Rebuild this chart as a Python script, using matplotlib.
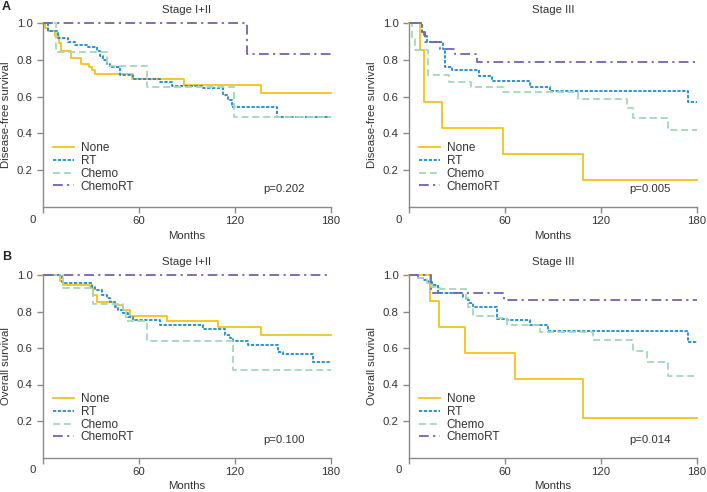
import matplotlib
matplotlib.use("Agg")
import matplotlib.pyplot as plt

plt.rcParams['font.family'] = ['Liberation Sans', 'DejaVu Sans']

groups = ["None", "RT", "Chemo", "ChemoRT"]
xticks = [0, 60, 120, 180]
xticklabels = ["", "60", "120", "180"]
yticks = [0.2, 0.4, 0.6, 0.8, 1.0]
yticklabels = ["0.2", "0.4", "0.6", "0.8", "1.0"]

# Panel A, Stage I+II: disease-free survival
dfs12_none_t = [0, 1.3, 3.3, 7.5, 10.2, 11, 17.3, 24, 29, 30.4, 32.5, 55.4, 88, 136, 180]
dfs12_none_s = [1.0, 0.973, 0.96, 0.93, 0.89, 0.851, 0.81, 0.78, 0.764, 0.745, 0.724, 0.696, 0.664, 0.622, 0.622]
dfs12_rt_t = [0, 3.3, 9.6, 15.6, 19.8, 28.1, 33.5, 35.6, 37.7, 39.8, 41.9, 48.1, 56.5, 73, 80.4, 100.2, 112.7, 115.8, 117.9, 146.5, 180]
dfs12_rt_s = [1.0, 0.96, 0.92, 0.90, 0.88, 0.87, 0.85, 0.82, 0.80, 0.78, 0.76, 0.72, 0.695, 0.68, 0.658, 0.646, 0.609, 0.582, 0.542, 0.488, 0.488]
dfs12_chemo_t = [0, 8, 40, 65, 119.6, 180]
dfs12_chemo_s = [1.0, 0.846, 0.766, 0.651, 0.488, 0.488]
dfs12_crt_t = [0, 127.3, 180]
dfs12_crt_s = [1.0, 0.833, 0.833]

# Panel A, Stage III: disease-free survival
dfs3_none_t = [0, 6.9, 9.2, 20.8, 59, 109, 180]
dfs3_none_s = [1.0, 0.857, 0.571, 0.429, 0.286, 0.143, 0.143]
dfs3_rt_t = [0, 7.9, 9.5, 11, 21.5, 22.5, 26.7, 44, 52, 75.6, 88, 174.6, 180]
dfs3_rt_s = [1.0, 0.95, 0.93, 0.90, 0.86, 0.76, 0.745, 0.71, 0.685, 0.655, 0.633, 0.573, 0.573]
dfs3_chemo_t = [0, 1.7, 4, 12, 25, 39, 59, 105.8, 136, 140, 162, 180]
dfs3_chemo_s = [1.0, 0.92, 0.855, 0.72, 0.68, 0.65, 0.625, 0.587, 0.536, 0.482, 0.418, 0.418]
dfs3_crt_t = [0, 7.9, 10, 19.4, 28.75, 42.3, 180]
dfs3_crt_s = [1.0, 0.95, 0.90, 0.86, 0.83, 0.787, 0.787]

# Panel B, Stage I+II: overall survival
os12_none_t = [0, 10.6, 12.7, 29.4, 31.5, 33.5, 45, 50.2, 54.4, 77.3, 109.6, 136, 180]
os12_none_s = [1.0, 0.967, 0.945, 0.927, 0.89, 0.854, 0.836, 0.81, 0.777, 0.748, 0.717, 0.671, 0.671]
os12_rt_t = [0, 11.7, 12.7, 30.4, 32.5, 36.7, 39.8, 41.9, 45, 47.1, 50.2, 53.3, 56.5, 73, 100, 113.75, 117, 119, 128.3, 147, 150, 168.5, 180]
os12_rt_s = [1.0, 0.963, 0.954, 0.936, 0.918, 0.89, 0.872, 0.854, 0.826, 0.808, 0.79, 0.772, 0.753, 0.726, 0.704, 0.671, 0.657, 0.638, 0.616, 0.58, 0.565, 0.525, 0.525]
os12_chemo_t = [0, 12.7, 31.5, 50.2, 52, 65, 119, 180]
os12_chemo_s = [1.0, 0.927, 0.839, 0.808, 0.748, 0.64, 0.479, 0.479]
os12_crt_t = [0, 180]
os12_crt_s = [1.0, 1.0]

# Panel B, Stage III: overall survival
os3_none_t = [0, 13.1, 18.75, 35, 66.25, 109, 180]
os3_none_s = [1.0, 0.857, 0.714, 0.571, 0.429, 0.214, 0.214]
os3_rt_t = [0, 5.8, 9, 12, 14.4, 18.3, 33.5, 35.6, 37.7, 39.8, 54.8, 61, 75.6, 87, 174.6, 180]
os3_rt_s = [1.0, 0.985, 0.97, 0.963, 0.945, 0.903, 0.88, 0.863, 0.845, 0.823, 0.759, 0.753, 0.726, 0.693, 0.635, 0.635]
os3_chemo_t = [0, 5.8, 11, 14.4, 19.4, 35.6, 37, 40.2, 53.75, 61, 82, 115, 140, 148.5, 162, 180]
os3_chemo_s = [1.0, 0.985, 0.954, 0.936, 0.923, 0.872, 0.826, 0.777, 0.766, 0.726, 0.686, 0.644, 0.584, 0.521, 0.447, 0.447]
os3_crt_t = [0, 13.5, 59.4, 180]
os3_crt_s = [1.0, 0.903, 0.863, 0.863]

panels = [
    dict(title="Stage I+II", ylabel="Disease-free survival", p="p=0.202",
         curves=[(dfs12_none_t, dfs12_none_s), (dfs12_rt_t, dfs12_rt_s),
                 (dfs12_chemo_t, dfs12_chemo_s), (dfs12_crt_t, dfs12_crt_s)]),
    dict(title="Stage III", ylabel="Disease-free survival", p="p=0.005",
         curves=[(dfs3_none_t, dfs3_none_s), (dfs3_rt_t, dfs3_rt_s),
                 (dfs3_chemo_t, dfs3_chemo_s), (dfs3_crt_t, dfs3_crt_s)]),
    dict(title="Stage I+II", ylabel="Overall survival", p="p=0.100",
         curves=[(os12_none_t, os12_none_s), (os12_rt_t, os12_rt_s),
                 (os12_chemo_t, os12_chemo_s), (os12_crt_t, os12_crt_s)]),
    dict(title="Stage III", ylabel="Overall survival", p="p=0.014",
         curves=[(os3_none_t, os3_none_s), (os3_rt_t, os3_rt_s),
                 (os3_chemo_t, os3_chemo_s), (os3_crt_t, os3_crt_s)]),
]

styles = [
    dict(color="#F5C21B", linestyle="-", linewidth=1.3),
    dict(color="#1B8BD0", linestyle=(0, (1.8, 0.9)), linewidth=1.3),
    dict(color="#A3D8BA", linestyle=(0, (3.9, 2.1)), linewidth=1.3),
    dict(color="#7065B4", linestyle=(0, (5.4, 2.4, 1.2, 2.4)), linewidth=1.3),
]

W, H = 707, 492
fig = plt.figure(figsize=(W / 100, H / 100), dpi=100)

positions = [
    (43 / W, 1 - 206.7 / H, 288 / W, 183.4 / H),
    (409 / W, 1 - 206.7 / H, 288 / W, 183.4 / H),
    (43 / W, 1 - 457.5 / H, 288 / W, 182.5 / H),
    (409 / W, 1 - 457.5 / H, 288 / W, 182.5 / H),
]

spine_c = "#8a8a8a"
text_c = "#333333"
fs = 8.2
lfs = 8.5

for pos, pan in zip(positions, panels):
    ax = fig.add_axes(pos)
    handles = []
    for (t, s), st, name in zip(pan["curves"], styles, groups):
        ln, = ax.plot(t, s, drawstyle="steps-post", clip_on=False, label=name, **st)
        handles.append(ln)
    ax.set_xlim(0, 180)
    ax.set_ylim(0, 1.0)
    ax.set_xticks(xticks)
    ax.set_xticklabels(xticklabels)
    ax.set_yticks(yticks)
    ax.set_yticklabels(yticklabels)
    for sp in ["top", "right"]:
        ax.spines[sp].set_visible(False)
    for sp in ["left", "bottom"]:
        ax.spines[sp].set_color(spine_c)
        ax.spines[sp].set_linewidth(1.0)
    ax.tick_params(axis="both", colors=spine_c, labelcolor=text_c, labelsize=fs,
                   length=4, width=1.0, direction="out")
    ax.tick_params(axis="y", pad=3.5)
    ax.tick_params(axis="x", pad=3)
    ax.text(-0.037, -0.07, "0", transform=ax.transAxes, ha="center", va="center",
            fontsize=fs, color=text_c)
    ax.set_title(pan["title"], fontsize=fs, color=text_c, pad=7.5)
    ax.set_xlabel("Months", fontsize=fs, color=text_c, labelpad=3)
    ax.set_ylabel(pan["ylabel"], fontsize=fs, color=text_c)
    ax.yaxis.set_label_coords(-0.112, 0.5)
    ax.text(0.91, 0.097, pan["p"], transform=ax.transAxes, ha="right", va="center",
            fontsize=fs, color=text_c)
    ax.legend(handles=handles, loc="lower left", bbox_to_anchor=(0.035, 0.077),
              frameon=False, fontsize=lfs, handlelength=1.8, handletextpad=0.55,
              labelspacing=0.06, borderpad=0, borderaxespad=0, labelcolor=text_c)

fig.text(2 / W, 1 - 7 / H, "A", fontsize=9, fontweight="bold", color="#222222", ha="left", va="center")
fig.text(2 / W, 1 - 257 / H, "B", fontsize=9, fontweight="bold", color="#222222", ha="left", va="center")

fig.savefig("out.png", dpi=100)
